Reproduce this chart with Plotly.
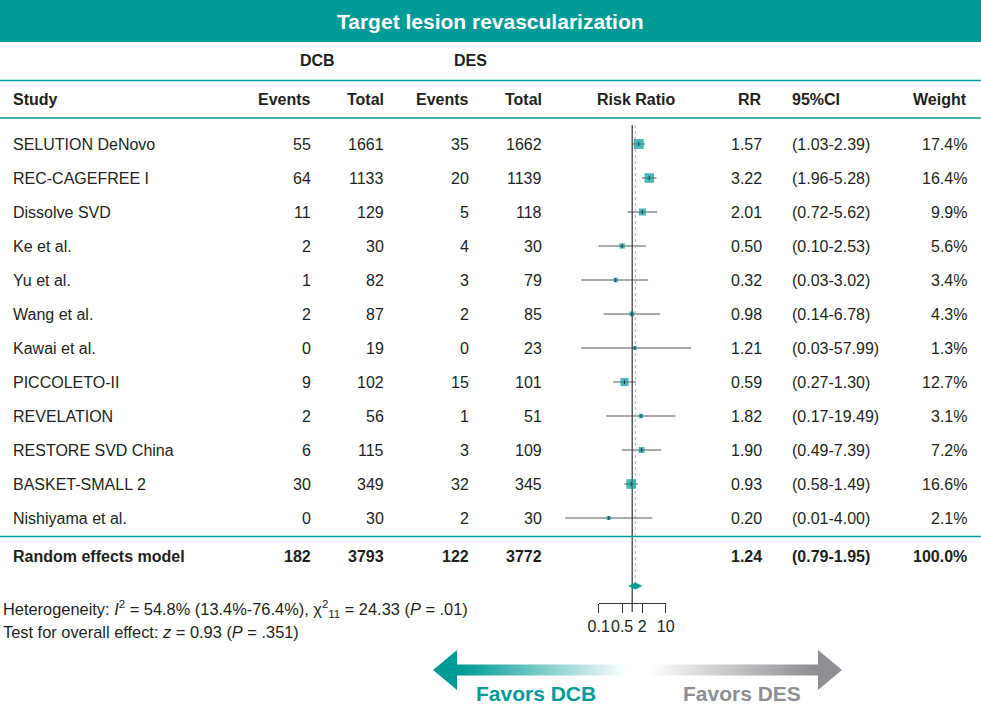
import plotly.graph_objects as go

# ---------------- data ----------------
studies = ["SELUTION DeNovo", "REC-CAGEFREE I", "Dissolve SVD", "Ke et al.", "Yu et al.",
           "Wang et al.", "Kawai et al.", "PICCOLETO-II", "REVELATION", "RESTORE SVD China",
           "BASKET-SMALL 2", "Nishiyama et al."]
dcb_events = [55, 64, 11, 2, 1, 2, 0, 9, 2, 6, 30, 0]
dcb_total = [1661, 1133, 129, 30, 82, 87, 19, 102, 56, 115, 349, 30]
des_events = [35, 20, 5, 4, 3, 2, 0, 15, 1, 3, 32, 2]
des_total = [1662, 1139, 118, 30, 79, 85, 23, 101, 51, 109, 345, 30]
rr = [1.57, 3.22, 2.01, 0.50, 0.32, 0.98, 1.21, 0.59, 1.82, 1.90, 0.93, 0.20]
ci_lo = [1.03, 1.96, 0.72, 0.10, 0.03, 0.14, 0.03, 0.27, 0.17, 0.49, 0.58, 0.01]
ci_hi = [2.39, 5.28, 5.62, 2.53, 3.02, 6.78, 57.99, 1.30, 19.49, 7.39, 1.49, 4.00]
weight = [17.4, 16.4, 9.9, 5.6, 3.4, 4.3, 1.3, 12.7, 3.1, 7.2, 16.6, 2.1]

pooled_label = "Random effects model"
pooled_dcb_events, pooled_dcb_total = 182, 3793
pooled_des_events, pooled_des_total = 122, 3772
pooled_rr, pooled_lo, pooled_hi = 1.24, 0.79, 1.95
pooled_weight = 100.0

tick_vals = [0.1, 0.5, 2, 10]
tick_text = ["0.1", "0.5", "2", "10"]

title_text = "Target lesion revascularization"
heterogeneity_text = ("Heterogeneity: <i>I</i><sup>2</sup> = 54.8% (13.4%-76.4%), "
                      "χ<sup>2</sup><sub>11</sub> = 24.33 (<i>P</i> = .01)")
overall_text = "Test for overall effect: <i>z</i> = 0.93 (<i>P</i> = .351)"

# ---------------- layout constants ----------------
W, H = 981, 704
TEAL = "#009b96"
GRAY_ARROW = "#8e8e93"
TXT = "#231f20"
FONT = "Liberation Sans, Arial, Helvetica, sans-serif"
FS = 16

CENTER = 632.2   # pixel of RR = 1
PPD = 33.5       # pixels per decade
X0PX, X1PX = 540, 725
ROW0, ROWH = 144, 34

def row_of(py):
    return (py - ROW0) / ROWH

fig = go.Figure()

n = len(studies)
rows = list(range(n))

# CI lines
cx, cy = [], []
for i in rows:
    cx += [ci_lo[i], ci_hi[i], None]
    cy += [i, i, None]
fig.add_trace(go.Scatter(x=cx, y=cy, mode="lines", line=dict(color="#555555", width=1),
                         hoverinfo="skip", showlegend=False, xaxis="x", yaxis="y"))

# null line and pooled dotted line
fig.add_trace(go.Scatter(x=[pooled_rr, pooled_rr], y=[row_of(125), row_of(583)], mode="lines",
                         line=dict(color="#b0b0b0", width=1, dash="dot"),
                         hoverinfo="skip", showlegend=False))
fig.add_trace(go.Scatter(x=[1, 1], y=[row_of(125), row_of(612)], mode="lines",
                         line=dict(color="#333333", width=1.2),
                         hoverinfo="skip", showlegend=False))

# weighted squares
sizes = [3.2 + 0.39 * w for w in weight]
fig.add_trace(go.Scatter(x=rr, y=rows, mode="markers",
                         marker=dict(symbol="square", size=sizes, color=TEAL, line=dict(width=0)),
                         hoverinfo="skip", showlegend=False))
fig.add_trace(go.Scatter(x=rr, y=rows, mode="markers",
                         marker=dict(symbol="line-ns", size=3, line=dict(color="#222222", width=0.8)),
                         hoverinfo="skip", showlegend=False))

# pooled diamond
dy = row_of(586)
hh = 0.095
fig.add_trace(go.Scatter(x=[pooled_lo, pooled_rr, pooled_hi, pooled_rr, pooled_lo],
                         y=[dy, dy - hh, dy, dy + hh, dy], mode="lines", fill="toself",
                         fillcolor=TEAL, line=dict(color=TEAL, width=0.5),
                         hoverinfo="skip", showlegend=False))

# invisible trace for tick axis
fig.add_trace(go.Scatter(x=[1], y=[0], mode="markers", marker=dict(opacity=0),
                         hoverinfo="skip", showlegend=False, xaxis="x2", yaxis="y"))

# arrows (pixel axes)
def arrow_poly(tip, back, tail, yc, half_head=20, half_shaft=5.5):
    xs = [tip, back, back, tail, tail, back, back, tip]
    ys = [yc, yc - half_head, yc - half_shaft, yc - half_shaft, yc + half_shaft,
          yc + half_shaft, yc + half_head, yc]
    return xs, ys

ax_, ay_ = arrow_poly(433, 457, 627, 670)
fig.add_trace(go.Scatter(x=ax_, y=ay_, mode="lines", fill="toself", line=dict(width=0),
                         fillgradient=dict(type="horizontal", start=433, stop=627,
                                           colorscale=[[0, "rgba(0,155,150,1)"],
                                                       [0.15, "rgba(0,155,150,1)"],
                                                       [1, "rgba(0,155,150,0)"]]),
                         hoverinfo="skip", showlegend=False, xaxis="x3", yaxis="y3"))
gx_, gy_ = arrow_poly(842, 818, 648, 670)
fig.add_trace(go.Scatter(x=gx_, y=gy_, mode="lines", fill="toself", line=dict(width=0),
                         fillgradient=dict(type="horizontal", start=648, stop=842,
                                           colorscale=[[0, "rgba(142,142,147,0)"],
                                                       [0.85, "rgba(142,142,147,1)"],
                                                       [1, "rgba(142,142,147,1)"]]),
                         hoverinfo="skip", showlegend=False, xaxis="x3", yaxis="y3"))

# ---------------- annotations ----------------
ann = []
PADX = 2  # compensation for annotation box padding

def txt(x, y, s, anchor="left", bold=False, size=FS, color=TXT, yref="y"):
    if anchor == "left":
        x = max(x - PADX, 0.5)
    elif anchor == "right":
        x = x + PADX
    ann.append(dict(x=x, y=y, xref="x3", yref=yref, text=(f"<b>{s}</b>" if bold else s),
                    showarrow=False, xanchor=anchor, yanchor="middle",
                    font=dict(family=FONT, size=size, color=color)))

# title
txt(490, 21, title_text, anchor="center", bold=True, size=21, color="white", yref="y3")
# group headers
txt(317, 60.5, "DCB", anchor="center", bold=True, yref="y3")
txt(470, 60.5, "DES", anchor="center", bold=True, yref="y3")
# column headers
hy = 99
txt(13, hy, "Study", bold=True, yref="y3")
txt(311, hy, "Events", anchor="right", bold=True, yref="y3")
txt(384, hy, "Total", anchor="right", bold=True, yref="y3")
txt(469, hy, "Events", anchor="right", bold=True, yref="y3")
txt(542, hy, "Total", anchor="right", bold=True, yref="y3")
txt(636, hy, "Risk Ratio", anchor="center", bold=True, yref="y3")
txt(762, hy, "RR", anchor="right", bold=True, yref="y3")
txt(792, hy, "95%CI", anchor="left", bold=True, yref="y3")
txt(967, hy, "Weight", anchor="right", bold=True, yref="y3")

for i in rows:
    txt(13, i, studies[i])
    txt(311, i, str(dcb_events[i]), anchor="right")
    txt(384, i, str(dcb_total[i]), anchor="right")
    txt(469, i, str(des_events[i]), anchor="right")
    txt(542, i, str(des_total[i]), anchor="right")
    txt(762, i, f"{rr[i]:.2f}", anchor="right")
    txt(792, i, f"({ci_lo[i]:.2f}-{ci_hi[i]:.2f})", anchor="left")
    txt(967, i, f"{weight[i]:.1f}%", anchor="right")

pr = row_of(556)
txt(13, pr, pooled_label, bold=True)
txt(311, pr, str(pooled_dcb_events), anchor="right", bold=True)
txt(384, pr, str(pooled_dcb_total), anchor="right", bold=True)
txt(469, pr, str(pooled_des_events), anchor="right", bold=True)
txt(542, pr, str(pooled_des_total), anchor="right", bold=True)
txt(762, pr, f"{pooled_rr:.2f}", anchor="right", bold=True)
txt(792, pr, f"({pooled_lo:.2f}-{pooled_hi:.2f})", anchor="left", bold=True)
txt(967, pr, f"{pooled_weight:.1f}%", anchor="right", bold=True)

txt(0.5, 609, heterogeneity_text, size=16.4, yref="y3")
txt(0.5, 632, overall_text, size=16.4, yref="y3")

txt(535.5, 693, "Favors DCB", anchor="center", bold=True, size=21, color=TEAL, yref="y3")
txt(741.5, 693, "Favors DES", anchor="center", bold=True, size=21, color=GRAY_ARROW, yref="y3")

# ---------------- shapes ----------------
shapes = [
    dict(type="rect", xref="paper", yref="paper", x0=0, x1=1, y0=1 - 42 / H, y1=1,
         fillcolor=TEAL, line=dict(width=0), layer="below"),
]
for py in (80.5, 118, 536.5):
    shapes.append(dict(type="line", xref="paper", yref="paper", x0=0, x1=1,
                       y0=1 - py / H, y1=1 - py / H, line=dict(color=TEAL, width=1.6)))

fig.update_layout(
    width=W, height=H, margin=dict(l=0, r=0, t=0, b=0, pad=0, autoexpand=False),
    autosize=False,
    paper_bgcolor="white", plot_bgcolor="rgba(0,0,0,0)",
    showlegend=False, annotations=ann, shapes=shapes,
    font=dict(family=FONT, size=FS, color=TXT),
    xaxis=dict(type="log", domain=[X0PX / W, X1PX / W],
               range=[(X0PX - CENTER) / PPD, (X1PX - CENTER) / PPD],
               visible=False, fixedrange=True, automargin=False),
    yaxis=dict(domain=[0, 1], range=[row_of(H), row_of(0)], visible=False, fixedrange=True,
               automargin=False),
    xaxis2=dict(type="log", domain=[(CENTER - PPD) / W, (CENTER + PPD) / W], range=[-1, 1],
                anchor="free", position=1 - 603 / H, side="bottom", automargin=False,
                tickmode="array", tickvals=tick_vals, ticktext=tick_text, tickangle=0,
                ticks="outside", ticklen=9, tickwidth=1, tickcolor="#333333",
                showline=True, linecolor="#333333", linewidth=1,
                showgrid=False, zeroline=False, fixedrange=True,
                tickfont=dict(family=FONT, size=FS, color=TXT)),
    xaxis3=dict(domain=[0, 1], range=[0, W], visible=False, anchor="y3", fixedrange=True,
                automargin=False),
    yaxis3=dict(domain=[0, 1], range=[H, 0], visible=False, anchor="x3", fixedrange=True,
                automargin=False),
)

post = ("document.documentElement.style.margin='0';document.body.style.margin='0';"
        "document.body.style.padding='0';document.documentElement.style.overflow='hidden';"
        "document.body.style.overflow='hidden';")

fig.write_html("out.html", config={"displayModeBar": False, "responsive": False},
               post_script=post)
